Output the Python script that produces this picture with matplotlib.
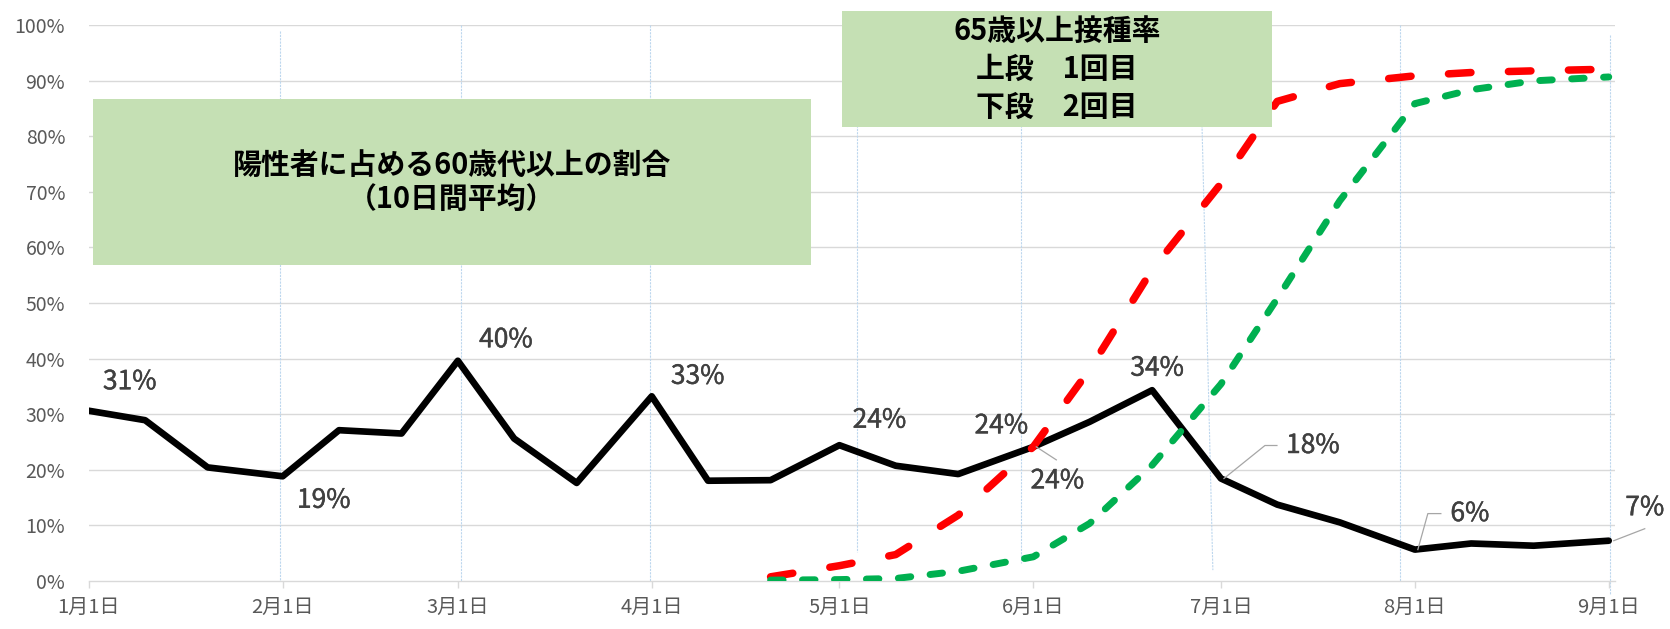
import matplotlib
matplotlib.use('Agg')
import matplotlib.pyplot as plt
import matplotlib.dates as mdates
import matplotlib.patheffects as pe
import pandas as pd
import numpy as np
from matplotlib.patches import Rectangle

plt.rcParams['font.family'] = ['Noto Sans CJK JP', 'DejaVu Sans']

# ---------------- data ----------------
dates = ['2021-01-01', '2021-01-10', '2021-01-20', '2021-02-01', '2021-02-10', '2021-02-20',
         '2021-03-01', '2021-03-10', '2021-03-20', '2021-04-01', '2021-04-10', '2021-04-20',
         '2021-05-01', '2021-05-10', '2021-05-20', '2021-06-01', '2021-06-10', '2021-06-20',
         '2021-07-01', '2021-07-10', '2021-07-20', '2021-08-01', '2021-08-10', '2021-08-20',
         '2021-09-01']
share_60plus = [30.6, 28.9, 20.4, 18.8, 27.1, 26.5, 39.6, 25.6, 17.6, 33.2, 18.0, 18.1,
                24.4, 20.7, 19.2, 24.1, 28.6, 34.3, 18.4, 13.7, 10.5, 5.6, 6.7, 6.3, 7.2]

vax_dates = dates[11:]
dose1_65plus = [0.7, 2.7, 4.7, 11.8, 24.1, 38.0, 56.0, 71.5, 86.3, 89.5, 90.9, 91.5, 91.8, 92.1]
dose2_65plus = [0.1, 0.2, 0.4, 1.7, 4.3, 10.3, 20.8, 35.4, 50.8, 68.4, 85.9, 88.4, 90.0, 90.7]

xtick_dates = ['2021-01-01', '2021-02-01', '2021-03-01', '2021-04-01', '2021-05-01',
               '2021-06-01', '2021-07-01', '2021-08-01', '2021-09-01']
xtick_labels = ['1月1日', '2月1日', '3月1日', '4月1日', '5月1日', '6月1日', '7月1日', '8月1日', '9月1日']
ytick_values = [0, 10, 20, 30, 40, 50, 60, 70, 80, 90, 100]
ytick_labels = ['0%', '10%', '20%', '30%', '40%', '50%', '60%', '70%', '80%', '90%', '100%']

box1_text = '陽性者に占める60歳代以上の割合\n（10日間平均）'
box2_text = '65歳以上接種率\n上段　1回目\n下段　2回目'

# hand-drawn month guide lines: (top date, bottom date, top %, bottom %)
guides = [('2021-01-31 14:00', '2021-01-31 14:00', 98.9, 0),
          ('2021-03-01 12:00', '2021-03-01 12:00', 100, 0),
          ('2021-03-31 16:00', '2021-03-31 16:00', 100, 0),
          ('2021-05-03 19:00', '2021-05-03 19:00', 100, 5.2),
          ('2021-05-30 00:00', '2021-05-30 00:00', 100, 3.2),
          ('2021-06-27 14:00', '2021-06-29 17:00', 100, 1.9),
          ('2021-07-29 14:00', '2021-07-29 14:00', 100, 0),
          ('2021-09-01 05:00', '2021-09-01 05:00', 98.2, -2.6)]

# labelled points on black line: index -> (dx px, dy px, leader vertices)
black_labels = {0: (41, 29, None), 3: (41, -24, None), 6: (48, 21, None), 9: (46, 20, None),
                12: (40, 25, None), 15: (-32, 21, None), 17: (5, 22, None),
                18: (92, 33, [(3, 0), (44, 33), (56, 33)]),
                21: (55, 36, [(3, 0), (13, 36), (26, 36)]),
                24: (36, 33, [(5, 0), (36, 12)])}
red_labels = {4: (24, -34, [(3, 0), (23, -13)])}

# ---------------- figure ----------------
W, H, DPI = 1670, 629, 100
fig = plt.figure(figsize=(W / DPI, H / DPI), dpi=DPI)
ax = fig.add_axes([88.8 / W, 48.3 / H, (1615 - 88.8) / W, (603.7 - 48.3) / H])

x = pd.to_datetime(dates)
xv = pd.to_datetime(vax_dates)

grid_c = '#D9D9D9'
for yv in ytick_values[1:]:
    ax.axhline(yv, color=grid_c, lw=1.0, zorder=0.5)

for t, b, yt, yb in guides:
    ax.plot(pd.to_datetime([t, b]), [yt, yb], color='#BDD7EE', lw=0.8, ls=(0, (2, 1)),
            zorder=1, clip_on=False)

ax.plot(x, share_60plus, color='black', lw=4.8, solid_joinstyle='round',
        solid_capstyle='round', zorder=3)
l1, = ax.plot(xv, dose1_65plus, color='#FF0000', lw=5.4, zorder=3.5,
              dash_capstyle='round', dash_joinstyle='round')
l1.set_dashes((3.0, 5.0))
l2, = ax.plot(xv, dose2_65plus, color='#00B050', lw=5.0, zorder=4,
              dash_capstyle='round', dash_joinstyle='round')
l2.set_dashes((1.8, 2.8))

ax.set_xlim(pd.Timestamp('2021-01-01'), pd.Timestamp('2021-09-02'))
ax.set_ylim(0, 100)

ax.set_xticks(pd.to_datetime(xtick_dates))
ax.set_xticklabels(xtick_labels)
ax.set_yticks(ytick_values)
ax.set_yticklabels(ytick_labels)
ax.tick_params(axis='x', length=5, width=1, color=grid_c, pad=7, labelsize=14.5, labelcolor='#595959')
ax.tick_params(axis='y', length=0, pad=17, labelsize=14, labelcolor='#595959')
for s in ['top', 'right', 'left']:
    ax.spines[s].set_visible(False)
ax.spines['bottom'].set_color(grid_c)
ax.spines['bottom'].set_linewidth(1.0)
ax.patch.set_alpha(0)

fig.canvas.draw()
lab_c = '#404040'
lead_c = '#A6A6A6'


def put_label(xd, yd, dx, dy, leader, text):
    px, py = ax.transData.transform((mdates.date2num(xd), yd))
    ax.annotate(text, xy=(mdates.date2num(xd), yd), xytext=(dx, dy), textcoords='offset pixels',
                ha='center', va='center', fontsize=19, color=lab_c, zorder=8,
                path_effects=[pe.withStroke(linewidth=0.3, foreground=lab_c)])
    if leader:
        xs = [px + a for a, b in leader]
        ys = [py + b for a, b in leader]
        fig.add_artist(plt.Line2D(xs, ys, transform=None, color=lead_c, lw=0.9, zorder=8))


for i, (dx, dy, ld) in black_labels.items():
    put_label(x[i], share_60plus[i], dx, dy, ld, f'{share_60plus[i]:.0f}%')
for i, (dx, dy, ld) in red_labels.items():
    put_label(xv[i], dose1_65plus[i], dx, dy, ld, f'{dose1_65plus[i]:.0f}%')

# text boxes (figure pixel coordinates: x0, y0_top, x1, y1_bottom)
box_c = '#C5E0B4'
for (x0, y0, x1, y1), txt, ls in [((93, 99, 811, 265), box1_text, 1.2),
                                  ((842, 11, 1272, 127), box2_text, 1.33)]:
    fig.add_artist(Rectangle((x0 / W, 1 - y1 / H), (x1 - x0) / W, (y1 - y0) / H,
                             transform=fig.transFigure, facecolor=box_c, edgecolor='none', zorder=6))
    fig.text((x0 + x1) / 2 / W, 1 - (y0 + y1) / 2 / H, txt, ha='center', va='center',
             fontsize=20.8, fontweight='bold', color='black', linespacing=ls, zorder=7)

fig.savefig('out.png', dpi=DPI)
